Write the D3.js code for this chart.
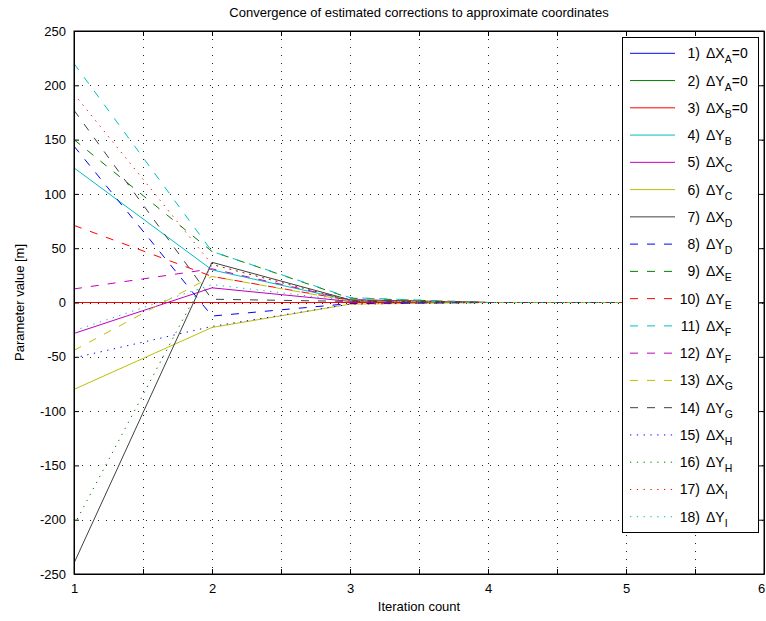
<!DOCTYPE html>
<html>
<head>
<meta charset="utf-8">
<script src="https://cdn.jsdelivr.net/npm/d3@7/dist/d3.min.js"></script>
<style>
  body { margin: 0; background: #fff; }
  text { font-family: "Liberation Sans", Arial, Helvetica, sans-serif; fill: #000; }
</style>
</head>
<body>
<div id="svg-container"></div>
<script>

// iteration numbers (x axis)
var iterations = [1, 2, 3, 4, 5, 6];

// parameter values per iteration, one entry per unknown (1..18)
var iter1 = [0, 0, 0, 124, -28.5, -80, -240, 144, 150, 71, 220, 12.5, -44, 177, -51, -205, 192, -26];
var iter2 = [0, 0, 0, 30, 13.5, -23, 37, -12.5, 47, 24, 47, 31, 24, 3, -22, 35, 35, 16.5];
var iter3 = [0, 0, 0, 2, 1, -1.5, 2.5, -1, 4, 2, 4.5, 2.5, 1.5, 1, -1.5, 2, 2, 1.5];
var iter4 = [0, 0, 0, 0, 0, 0, 0, 0, 0, 0, 0, 0, 0, 0, 0, 0, 0, 0];
var iter5 = [0, 0, 0, 0, 0, 0, 0, 0, 0, 0, 0, 0, 0, 0, 0, 0, 0, 0];
var iter6 = [0, 0, 0, 0, 0, 0, 0, 0, 0, 0, 0, 0, 0, 0, 0, 0, 0, 0];
var allIters = [iter1, iter2, iter3, iter4, iter5, iter6];

// legend labels: "n) ΔX_P"
var coordNames = ["X", "Y", "X", "Y", "X", "Y", "X", "Y", "X", "Y", "X", "Y", "X", "Y", "X", "Y", "X", "Y"];
var pointNames = ["A", "A", "B", "B", "C", "C", "D", "D", "E", "E", "F", "F", "G", "G", "H", "H", "I", "I"];
var labelSuffix = ["=0", "=0", "=0", "", "", "", "", "", "", "", "", "", "", "", "", "", "", ""];

var xTicks = d3.range(1, 6.01, 0.5);
var yTicks = d3.range(-250, 251, 50);

// matlab style colour / line style cycle
var colorCycle = ["#0000ff", "#008000", "#ff0000", "#00bfbf", "#bf00bf", "#bfbf00", "#404040"];
var styleCycle = [null, "8,9", "1.3,5.5"];

// set the dimensions of the graph
var W = 766, H = 621;
var plot = {left: 74, right: 764, top: 31, bottom: 574};

var svg = d3.select("#svg-container")
  .append("svg")
  .attr("width", W)
  .attr("height", H);

const x = d3.scaleLinear()
  .domain([1, 6])
  .range([plot.left, plot.right]);

const y = d3.scaleLinear()
  .domain([-250, 250])
  .range([plot.bottom, plot.top]);

// grid
const grid = svg.append("g").attr("class", "grid")
  .attr("stroke", "#222")
  .attr("stroke-width", 1)
  .attr("stroke-dasharray", "1,7");
grid.selectAll(".vgrid")
  .data(xTicks.slice(1, -1))
  .enter().append("line")
    .attr("x1", d => Math.round(x(d)) + 0.5)
    .attr("x2", d => Math.round(x(d)) + 0.5)
    .attr("y1", plot.top)
    .attr("y2", plot.bottom);
grid.selectAll(".hgrid")
  .data(yTicks.slice(1, -1))
  .enter().append("line")
    .attr("y1", d => Math.round(y(d)) + 0.5)
    .attr("y2", d => Math.round(y(d)) + 0.5)
    .attr("x1", plot.left)
    .attr("x2", plot.right);

// clipping
svg.append('defs')
  .append('clipPath')
  .attr('id', 'clip')
  .append('rect')
    .attr('x', plot.left)
    .attr('y', plot.top)
    .attr('width', plot.right - plot.left)
    .attr('height', plot.bottom - plot.top);

// series
const seriesIdx = d3.range(iter1.length);
const line = d3.line()
  .x(d => x(d[0]))
  .y(d => y(d[1]));

svg.append("g")
  .attr("clip-path", "url(#clip)")
  .selectAll(".series")
  .data(seriesIdx)
  .enter().append("path")
    .attr("class", "series")
    .attr("fill", "none")
    .attr("stroke", i => colorCycle[i % 7])
    .attr("stroke-width", 1)
    .attr("stroke-dasharray", i => styleCycle[Math.floor(i / 7)])
    .attr("d", i => line(iterations.map((it, k) => [it, allIters[k][i]])));

// axes (ticks pointing inwards on all 4 sides)
const fmtX = d => Number.isInteger(d) ? d : "";
const xAxisG = svg.append("g")
  .attr("transform", "translate(0," + plot.bottom + ")")
  .call(d3.axisBottom(x).tickValues(xTicks).tickFormat(fmtX).tickSizeInner(-5).tickSizeOuter(0).tickPadding(10));
// keep the last label inside the window
xAxisG.selectAll(".tick text").filter(d => d === 6).attr("dx", -3);
svg.append("g")
  .attr("transform", "translate(0," + plot.top + ")")
  .call(d3.axisTop(x).tickValues(xTicks).tickFormat("").tickSizeInner(-5).tickSizeOuter(0));
svg.append("g")
  .attr("transform", "translate(" + plot.left + ",0)")
  .call(d3.axisLeft(y).tickValues(yTicks).tickFormat(d => String(d)).tickSizeInner(-5).tickSizeOuter(0).tickPadding(8));
svg.append("g")
  .attr("transform", "translate(" + plot.right + ",0)")
  .call(d3.axisRight(y).tickValues(yTicks).tickFormat("").tickSizeInner(-5).tickSizeOuter(0));

svg.selectAll(".tick text")
  .attr("font-size", 13)
  .attr("font-family", "Liberation Sans, Arial, sans-serif");
svg.selectAll(".domain").attr("stroke", "#000");

// box
svg.append("rect")
  .attr("x", plot.left)
  .attr("y", plot.top)
  .attr("width", plot.right - plot.left)
  .attr("height", plot.bottom - plot.top)
  .attr("fill", "none")
  .attr("stroke", "#000");

// title and labels
svg.append("text")
  .attr("x", (plot.left + plot.right) / 2)
  .attr("y", 17)
  .attr("text-anchor", "middle")
  .attr("font-size", 13)
  .text("Convergence of estimated corrections to approximate coordinates");

svg.append("text")
  .attr("x", (plot.left + plot.right) / 2)
  .attr("y", 611)
  .attr("text-anchor", "middle")
  .attr("font-size", 13)
  .text("Iteration count");

svg.append("text")
  .attr("transform", "translate(24," + ((plot.top + plot.bottom) / 2) + ")rotate(-90)")
  .attr("text-anchor", "middle")
  .attr("font-size", 13)
  .text("Parameter value [m]");

// legend
const leg = {x: 622, y: 37, w: 136, h: 495, first: 53.3, step: 27.26};
const legend = svg.append("g").attr("class", "legend");
legend.append("rect")
  .attr("x", leg.x + 0.5)
  .attr("y", leg.y + 0.5)
  .attr("width", leg.w)
  .attr("height", leg.h)
  .attr("fill", "#fff")
  .attr("stroke", "#000");

const items = legend.selectAll(".item")
  .data(seriesIdx)
  .enter().append("g")
    .attr("class", "item")
    .attr("transform", i => "translate(0," + (leg.first + i * leg.step) + ")");

items.append("line")
  .attr("x1", 630)
  .attr("x2", 675)
  .attr("y1", 0)
  .attr("y2", 0)
  .attr("stroke", i => colorCycle[i % 7])
  .attr("stroke-width", 1)
  .attr("stroke-dasharray", i => styleCycle[Math.floor(i / 7)]);

items.append("text")
  .attr("x", 700)
  .attr("y", 5)
  .attr("text-anchor", "end")
  .attr("font-size", 14)
  .text(i => (i + 1) + ")");

const lab = items.append("text")
  .attr("x", 706)
  .attr("y", 5)
  .attr("font-size", 14);
lab.append("tspan").text(i => "\u0394" + coordNames[i]);
lab.append("tspan")
  .attr("dy", 5)
  .attr("font-size", 10.5)
  .text(i => pointNames[i]);
lab.append("tspan")
  .attr("dy", -5)
  .text(i => labelSuffix[i]);

</script>
</body>
</html>
